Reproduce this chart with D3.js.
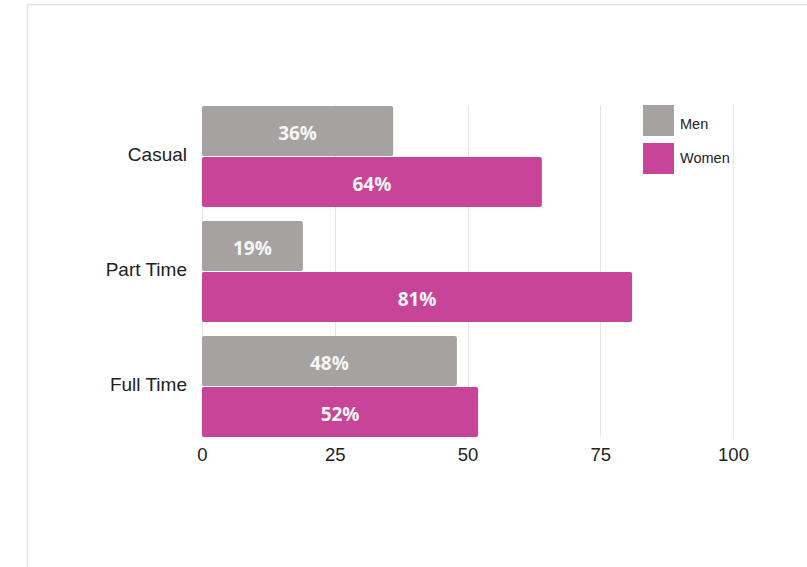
<!DOCTYPE html>
<html>
<head>
<meta charset="utf-8">
<script src="https://cdn.jsdelivr.net/npm/d3@7"></script>
<style>
  html, body { margin: 0; padding: 0; background: #fff; }
  svg { display: block; }
</style>
</head>
<body>
<svg id="chart" width="807" height="567"></svg>
<script>
// Employment type by gender (percent)
const categories = ["Casual", "Part Time", "Full Time"];
const seriesNames = ["Men", "Women"];
const menValues = [36, 19, 48];
const womenValues = [64, 81, 52];
const xTicks = [0, 25, 50, 75, 100];
const seriesColors = ["#a6a2a1", "#c84498"];

const svg = d3.select("#chart");
const W = 807, H = 567;

// card frame
svg.append("rect").attr("x", 0).attr("y", 0).attr("width", W).attr("height", H).attr("fill", "#fff");
svg.append("line").attr("x1", 27.5).attr("x2", 27.5).attr("y1", 4).attr("y2", H)
  .attr("stroke", "#e4e4e4").attr("stroke-width", 1.5);
svg.append("line").attr("x1", 27).attr("x2", W).attr("y1", 4.5).attr("y2", 4.5)
  .attr("stroke", "#e4e4e4").attr("stroke-width", 1.5);

const x = d3.scaleLinear().domain([0, 100]).range([202, 733]);
const y = d3.scaleBand().domain(categories).range([106, 437]).paddingInner(0.122).paddingOuter(0);
const ySub = d3.scaleBand().domain(seriesNames).range([0, y.bandwidth()]).paddingInner(0.02);

// vertical gridlines
svg.append("g").selectAll("line").data(xTicks).join("line")
  .attr("x1", d => Math.round(x(d)) + 0.5).attr("x2", d => Math.round(x(d)) + 0.5)
  .attr("y1", 105).attr("y2", 437)
  .attr("stroke", "#e6e6e6").attr("stroke-width", 1);

// x axis tick labels
const xAxis = d3.axisBottom(x).tickValues(xTicks).tickSize(0).tickPadding(0);
const gx = svg.append("g").attr("transform", "translate(0,448)").call(xAxis);
gx.select(".domain").remove();
gx.selectAll("text")
  .attr("font-family", "Liberation Sans, Arial, sans-serif")
  .attr("font-size", 18.5).attr("fill", "#222").attr("dy", "0.71em");

// category labels
const yAxis = d3.axisLeft(y).tickSize(0).tickPadding(0);
const gy = svg.append("g").attr("transform", "translate(187,0)").call(yAxis);
gy.select(".domain").remove();
gy.selectAll("text")
  .attr("font-family", "Liberation Sans, Arial, sans-serif")
  .attr("font-size", 19).attr("fill", "#222").attr("dy", "0.25em");

const rows = categories.map((c, i) => ({ cat: c, vals: [menValues[i], womenValues[i]] }));

const groups = svg.append("g").selectAll("g").data(rows).join("g")
  .attr("transform", d => `translate(0,${y(d.cat)})`);

const bars = groups.selectAll("g").data(d => d.vals.map((v, j) => ({ v, s: seriesNames[j], j })))
  .join("g");

bars.append("rect")
  .attr("x", x(0))
  .attr("y", d => ySub(d.s))
  .attr("width", d => x(d.v) - x(0))
  .attr("height", ySub.bandwidth())
  .attr("rx", 2)
  .attr("fill", d => seriesColors[d.j]);

bars.append("text")
  .attr("x", d => (x(0) + x(d.v)) / 2)
  .attr("y", d => ySub(d.s) + ySub.bandwidth() / 2 + 2)
  .attr("dy", "0.36em")
  .attr("text-anchor", "middle")
  .attr("font-family", "Open Sans, sans-serif")
  .attr("font-weight", "bold")
  .attr("font-size", 19)
  .attr("fill", "#f6f6f6")
  .text(d => d.v + "%");

// legend
const legend = svg.append("g");
legend.selectAll("rect").data(seriesNames).join("rect")
  .attr("x", 643).attr("y", (d, i) => 105 + i * 38)
  .attr("width", 31).attr("height", 31)
  .attr("fill", (d, i) => seriesColors[i]);
legend.selectAll("text").data(seriesNames).join("text")
  .attr("x", 680).attr("y", (d, i) => 129 + i * 34)
  .attr("font-family", "Liberation Sans, Arial, sans-serif")
  .attr("font-size", 14.5).attr("fill", "#222")
  .text(d => d);
</script>
</body>
</html>
